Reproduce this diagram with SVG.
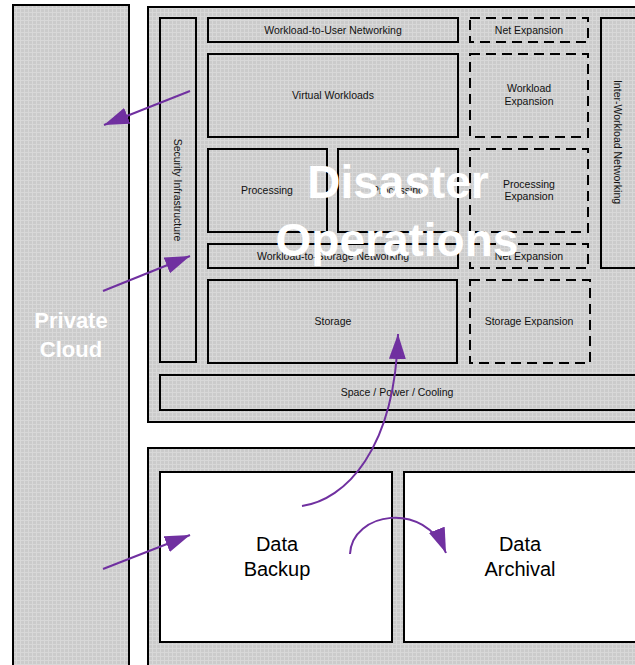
<svg xmlns="http://www.w3.org/2000/svg" width="635" height="665" viewBox="0 0 635 665">
  <style>
    .panel { fill: url(#grid); stroke: #000; stroke-width: 2; }
    .box { fill: url(#grid); stroke: #000; stroke-width: 2; }
    .dash { fill: url(#grid); stroke: #000; stroke-width: 2; stroke-dasharray: 10 6; }
    .white { fill: #fff; stroke: #000; stroke-width: 2; }
    .lbl { font-family: "Liberation Sans", Arial, sans-serif; font-size: 10.5px; fill: #111; text-anchor: middle; }
    .big { font-family: "Liberation Sans", Arial, sans-serif; font-size: 20px; fill: #000; text-anchor: middle; }
    .title { font-family: "Liberation Sans", Arial, sans-serif; font-weight: bold; fill: #fff; text-anchor: middle; }
    .conn { fill: none; stroke: #7030A0; stroke-width: 2; }
  </style>
  <defs>
    <pattern id="grid" width="4" height="4" patternUnits="userSpaceOnUse">
      <rect width="4" height="4" fill="#cbcbcb"/>
      <rect width="4" height="1" fill="#d8d8d8"/>
      <rect width="1" height="4" fill="#d8d8d8"/>
    </pattern>
    <marker id="ah" viewBox="0 0 25 17" refX="25" refY="8.5" markerWidth="25" markerHeight="17" markerUnits="userSpaceOnUse" orient="auto">
      <path d="M0,0 L25,8.5 L0,17 z" fill="#7030A0"/>
    </marker>
  </defs>
  <rect width="635" height="665" fill="#fff"/>

  <g id="private-cloud">
    <rect class="panel" x="13" y="5" width="116" height="670"/>
    <text class="title" font-size="22" x="71" y="328">Private</text>
    <text class="title" font-size="22" x="71" y="357">Cloud</text>
  </g>

  <g id="disaster-operations">
    <rect class="panel" x="148" y="7" width="500" height="415"/>
    <g id="security-infrastructure">
      <rect class="box" x="160" y="18" width="36" height="344"/>
      <text class="lbl" transform="translate(178,190) rotate(90)" x="0" y="4">Security Infrastructure</text>
    </g>
    <g id="workload-to-user-networking">
      <rect class="box" x="208" y="18" width="250" height="24"/>
      <text class="lbl" x="333" y="34">Workload-to-User Networking</text>
    </g>
    <g id="virtual-workloads">
      <rect class="box" x="208" y="54" width="250" height="83"/>
      <text class="lbl" x="333" y="99">Virtual Workloads</text>
    </g>
    <g id="processing-1">
      <rect class="box" x="208" y="149" width="119" height="83"/>
      <text class="lbl" x="267" y="194">Processing</text>
    </g>
    <g id="processing-2">
      <rect class="box" x="338" y="149" width="120" height="83"/>
      <text class="lbl" x="398" y="194">Processing</text>
    </g>
    <g id="workload-to-storage-networking">
      <rect class="box" x="208" y="244" width="250" height="24"/>
      <text class="lbl" x="333" y="260">Workload-to-Storage Networking</text>
    </g>
    <g id="storage">
      <rect class="box" x="208" y="280" width="249" height="83"/>
      <text class="lbl" x="333" y="325">Storage</text>
    </g>
    <g id="net-expansion-1">
      <rect class="dash" x="470" y="18" width="118" height="24"/>
      <text class="lbl" x="529" y="34">Net Expansion</text>
    </g>
    <g id="workload-expansion">
      <rect class="dash" x="470" y="54" width="118" height="83"/>
      <text class="lbl" x="529" y="92">Workload</text>
      <text class="lbl" x="529" y="104.5">Expansion</text>
    </g>
    <g id="processing-expansion">
      <rect class="dash" x="470" y="149" width="118" height="83"/>
      <text class="lbl" x="529" y="188">Processing</text>
      <text class="lbl" x="529" y="200">Expansion</text>
    </g>
    <g id="net-expansion-2">
      <rect class="dash" x="470" y="244" width="118" height="24"/>
      <text class="lbl" x="529" y="260">Net Expansion</text>
    </g>
    <g id="storage-expansion">
      <rect class="dash" x="470" y="280" width="120" height="83"/>
      <text class="lbl" x="529" y="325">Storage Expansion</text>
    </g>
    <g id="inter-workload-networking">
      <rect class="box" x="601" y="18" width="50" height="250"/>
      <text class="lbl" transform="translate(618,142) rotate(90)" x="0" y="4">Inter-Workload Networking</text>
    </g>
    <g id="space-power-cooling">
      <rect class="box" x="160" y="375" width="500" height="35"/>
      <text class="lbl" x="397" y="396">Space / Power / Cooling</text>
    </g>
    <text class="title" font-size="46" x="398" y="198">Disaster</text>
    <text class="title" font-size="46" x="397" y="256">Operations</text>
  </g>

  <g id="data-panel">
    <rect class="panel" x="148" y="448" width="500" height="230"/>
    <g id="data-backup">
      <rect class="white" x="160" y="472" width="232" height="170"/>
      <text class="big" x="277" y="551">Data</text>
      <text class="big" x="277" y="576">Backup</text>
    </g>
    <g id="data-archival">
      <rect class="white" x="404" y="472" width="250" height="170"/>
      <text class="big" x="520" y="551">Data</text>
      <text class="big" x="520" y="576">Archival</text>
    </g>
  </g>

  <g id="connectors">
    <path class="conn" d="M190,91 L104,125" marker-end="url(#ah)"/>
    <path class="conn" d="M103,291 L190,256" marker-end="url(#ah)"/>
    <path class="conn" d="M103,569 L190,535" marker-end="url(#ah)"/>
    <path class="conn" d="M302,506 C345,500 395,450 398,334" marker-end="url(#ah)"/>
    <path class="conn" d="M350,554 C352,512 425,500 446,553" marker-end="url(#ah)"/>
  </g>
</svg>
